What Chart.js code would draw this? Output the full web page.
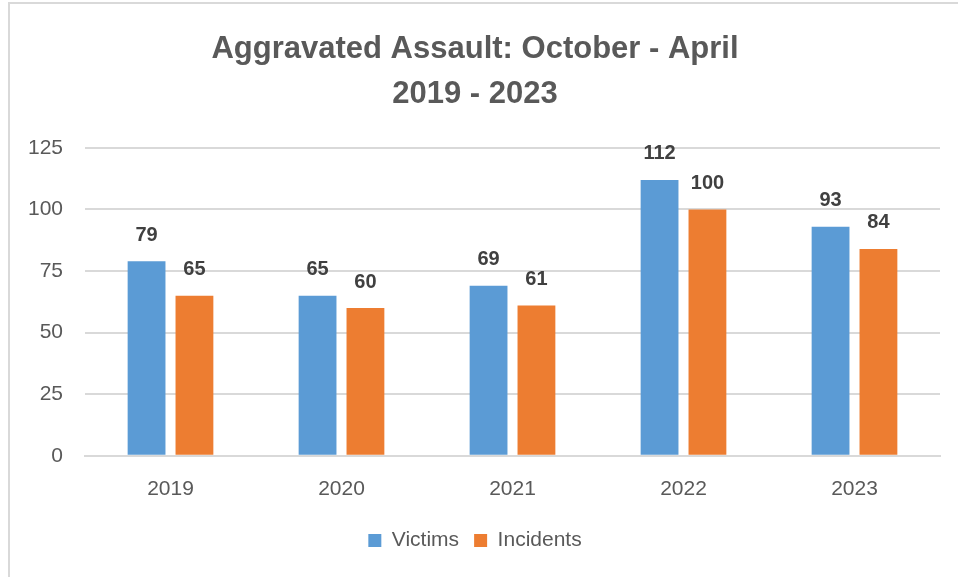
<!DOCTYPE html>
<html>
<head>
<meta charset="utf-8">
<script src="https://cdn.jsdelivr.net/npm/chart.js@4.4.1/dist/chart.umd.min.js"></script>
<style>
  html, body { margin: 0; padding: 0; background: #fff; }
  #frame {
    position: absolute; left: 8px; top: 2px; width: 948px; height: 573px;
    border-left: 2px solid #d9d9d9; border-top: 2px solid #d9d9d9;
  }
  #chart { display: block; }
</style>
</head>
<body>
<div id="frame"><canvas id="chart" width="948" height="573"></canvas></div>
<script>
const years = ["2019", "2020", "2021", "2022", "2023"];
const victims = [79, 65, 69, 112, 93];
const incidents = [65, 60, 61, 100, 84];
const titleLines = ["Aggravated Assault: October - April", "2019 - 2023"];

const FONT = "'Liberation Sans', Arial, sans-serif";
const GREY = "#595959";

// draw the number above every bar
const barLabels = {
  id: "barLabels",
  afterDatasetsDraw(chart) {
    const ctx = chart.ctx;
    ctx.save();
    ctx.font = "bold 20px " + FONT;
    ctx.fillStyle = "#404040";
    ctx.textAlign = "center";
    ctx.textBaseline = "middle";
    chart.data.datasets.forEach((ds, i) => {
      chart.getDatasetMeta(i).data.forEach((bar, j) => {
        ctx.fillText(ds.data[j], bar.x, bar.y - 26);
      });
    });
    ctx.restore();
  }
};

new Chart(document.getElementById("chart"), {
  type: "bar",
  data: {
    labels: years,
    datasets: [
      { label: "Victims", data: victims, backgroundColor: "#5B9BD5" },
      { label: "Incidents", data: incidents, backgroundColor: "#ED7D31" },
    ],
  },
  options: {
    responsive: false,
    animation: false,
    categoryPercentage: 0.56,
    barPercentage: 0.79,
    layout: { padding: { left: 0, right: 18, top: 8, bottom: 16 } },
    plugins: {
      title: {
        display: true,
        text: titleLines,
        color: GREY,
        font: { family: FONT, size: 31, weight: "bold", lineHeight: 1.45 },
        padding: { top: 15, bottom: 31 },
      },
      legend: {
        position: "bottom",
        labels: {
          color: GREY,
          font: { family: FONT, size: 21 },
          boxWidth: 13, boxHeight: 13, padding: 15,
        },
      },
      tooltip: { enabled: false },
    },
    scales: {
      x: {
        grid: { display: false },
        border: { color: "#d9d9d9", width: 2 },
        ticks: { color: GREY, font: { family: FONT, size: 21 }, padding: 13 },
      },
      y: {
        min: 0, max: 125,
        ticks: { stepSize: 25, color: GREY, font: { family: FONT, size: 21 }, padding: 22 },
        grid: { color: "#d9d9d9", lineWidth: 2, drawTicks: false },
        border: { display: false },
        afterFit(scale) { scale.width = 75; },
      },
    },
  },
  plugins: [barLabels],
});
</script>
</body>
</html>
